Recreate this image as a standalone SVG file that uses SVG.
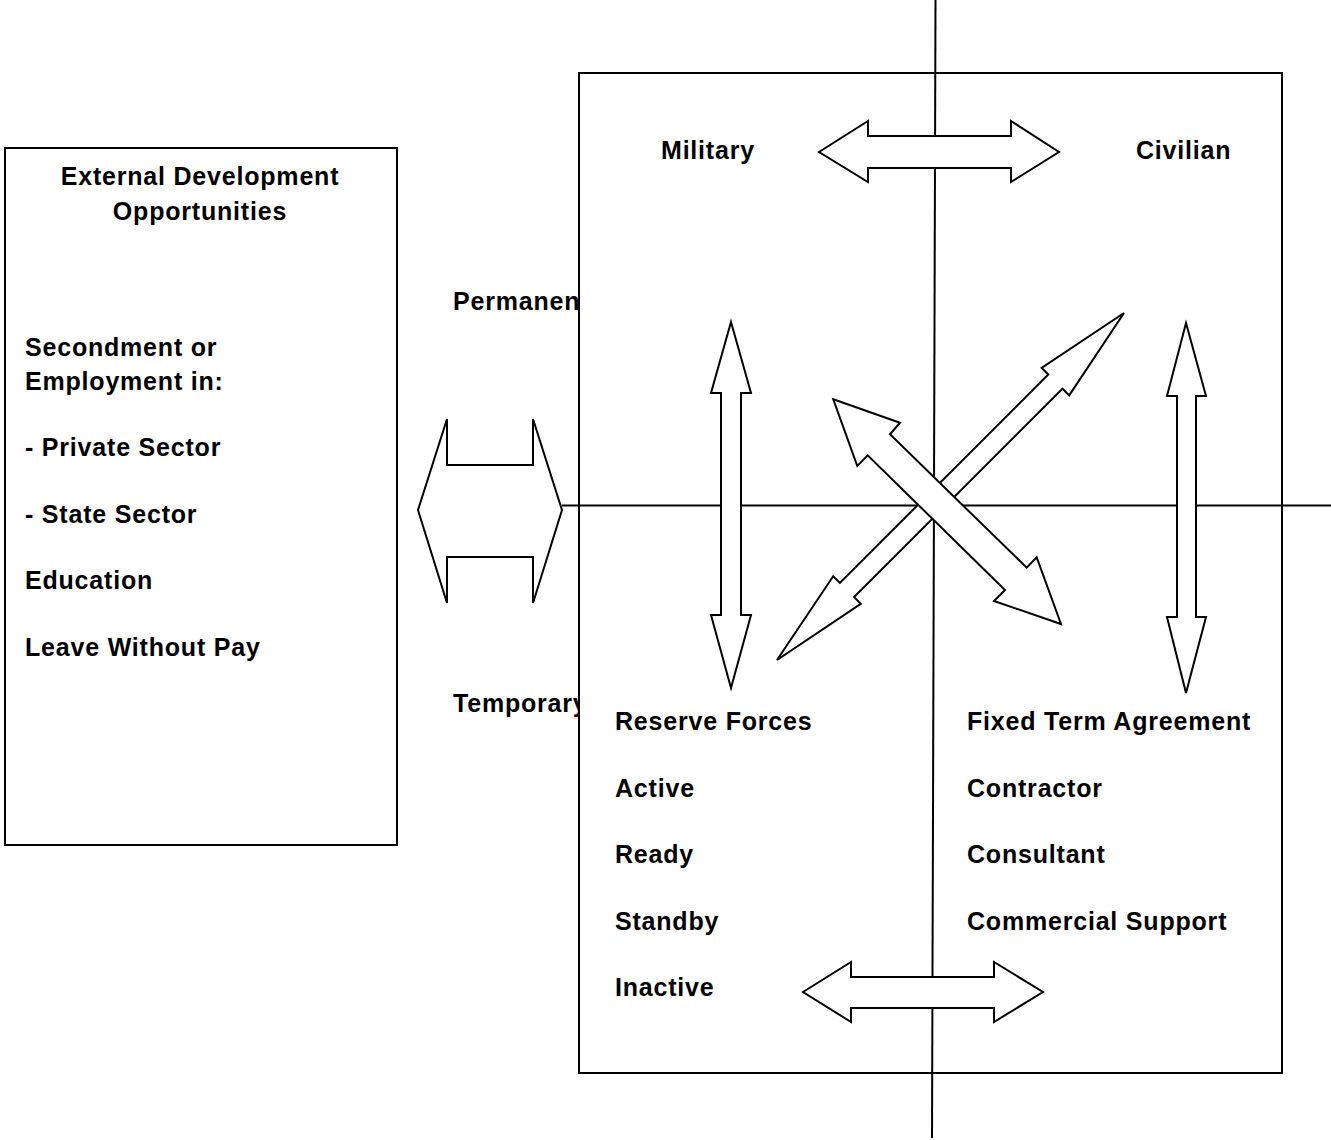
<svg xmlns="http://www.w3.org/2000/svg" width="1331" height="1140" viewBox="0 0 1331 1140">
<style>
text{font-family:"Liberation Sans",Arial,sans-serif;font-weight:bold;font-size:25px;letter-spacing:0.8px;fill:#000}
.box{fill:#fff;stroke:#000;stroke-width:2}
.ln{stroke:#000;stroke-width:2;fill:none}
.arr{fill:#fff;stroke:#000;stroke-width:2;stroke-linejoin:miter}
</style>
<rect width="1331" height="1140" fill="#fff"/>
<g id="left-box">
<rect class="box" x="5" y="148" width="392" height="697"/>
<text x="200" y="185" text-anchor="middle">External Development</text>
<text x="200" y="220" text-anchor="middle">Opportunities</text>
<text x="25" y="356">Secondment or</text>
<text x="25" y="389.5">Employment in:</text>
<text x="25" y="456">- Private Sector</text>
<text x="25" y="522.5">- State Sector</text>
<text x="25" y="589">Education</text>
<text x="25" y="656">Leave Without Pay</text>
</g>
<g id="label-permanent"><text x="453" y="310">Permanent</text></g>
<g id="label-temporary"><text x="453" y="711.5">Temporary</text></g>
<g id="main-box"><rect class="box" x="579" y="73" width="703" height="1000"/></g>
<g id="connectors">
<line class="ln" x1="935.5" y1="0" x2="932" y2="1138"/>
<line class="ln" x1="562" y1="505.5" x2="1331" y2="505.5"/>
<polygon class="arr" points="418,510 447,419 447,465 533,465 533,419 562,510 533,603 533,557 447,557 447,603"/>
<polygon class="arr" points="819,152 868,121 868,136 1011,136 1011,121 1059,152 1011,182 1011,168 868,168 868,182"/>
<polygon class="arr" points="803,992 851,962 851,977 994,977 994,962 1043,992 994,1022 994,1008 851,1008 851,1022"/>
<polygon class="arr" points="731,322 751,393 741,393 741,615 751,615 731,688 711,615 721,615 721,393 711,393"/>
<polygon class="arr" points="1186,323 1206,396 1196,396 1196,617 1206,617 1186,693 1167,617 1177,617 1177,396 1167,396"/>
<polygon class="arr" points="1124,313 1041.6,367.8 1048.3,374.5 839.9,582.9 833.2,576.2 777,660 860.8,603.8 854.1,597.1 1062.5,388.7 1069.2,395.4"/>
<polygon class="arr" points="833.3,399.3 900,422.7 890,434.3 1026.7,567.7 1036.7,557.3 1061,624 994,601 1005,590 867.7,455.3 857.3,466"/>
</g>
<g id="label-military"><text x="661" y="158.5">Military</text></g>
<g id="label-civilian"><text x="1136" y="158.5">Civilian</text></g>
<g id="reserve-list">
<text x="615" y="730">Reserve Forces</text>
<text x="615" y="796.7">Active</text>
<text x="615" y="863.3">Ready</text>
<text x="615" y="930">Standby</text>
<text x="615" y="996">Inactive</text>
</g>
<g id="civilian-list">
<text x="967" y="730">Fixed Term Agreement</text>
<text x="967" y="796.7">Contractor</text>
<text x="967" y="863.3">Consultant</text>
<text x="967" y="930">Commercial Support</text>
</g>
</svg>
